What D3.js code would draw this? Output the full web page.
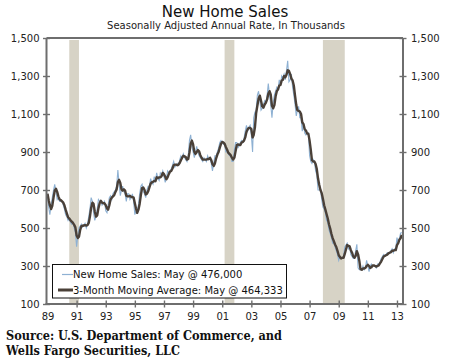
<!DOCTYPE html>
<html><head><meta charset="utf-8">
<script src="https://cdn.jsdelivr.net/npm/d3@7"></script>
<style>body{margin:0;background:#fff}svg{display:block}</style>
</head><body>
<svg id="chart" width="450" height="360"></svg>
<script>
// Monthly new home sales, SAAR, thousands (Jan 1989 – May 2013)
const startMonth = [1989, 0];
const newHomeSales = [
  680, 610, 570, 620, 660, 700, 730, 690, 650, 660, 640, 640,      // 1989
  640, 620, 600, 570, 560, 540, 550, 530, 520, 530, 500, 480,      // 1990
  401, 460, 500, 510, 520, 505, 515, 525, 500, 520, 560, 600,      // 1991
  660, 640, 580, 540, 560, 600, 650, 640, 640, 620, 630, 640,      // 1992
  590, 580, 620, 660, 670, 650, 680, 690, 700, 720, 805, 735,      // 1993
  670, 700, 720, 690, 680, 640, 680, 680, 650, 660, 680, 640,      // 1994
  570, 590, 580, 620, 680, 720, 730, 690, 680, 660, 700, 720,      // 1995
  720, 760, 740, 730, 770, 740, 790, 760, 750, 790, 780, 800,      // 1996
  770, 740, 760, 800, 790, 800, 810, 830, 850, 820, 830, 840,      // 1997
  830, 860, 880, 870, 890, 870, 860, 850, 880, 960, 990, 930,      // 1998
  900, 870, 900, 930, 900, 880, 870, 860, 850, 870, 860, 850,      // 1999
  880, 860, 870, 840, 800, 840, 880, 880, 900, 920, 950, 960,      // 2000
  950, 940, 940, 900, 900, 890, 880, 880, 850, 850, 910, 950,      // 2001
  950, 920, 940, 950, 960, 950, 970, 1010, 1040, 1010, 1030, 1040, // 2002
  990, 900, 1080, 1110, 1120, 1200, 1220, 1170, 1120, 1130, 1150, 1170, // 2003
  1160, 1200, 1260, 1200, 1150, 1080, 1160, 1200, 1220, 1240, 1230, 1280, // 2004
  1250, 1300, 1290, 1310, 1280, 1330, 1380, 1270, 1280, 1310, 1240, 1200, // 2005
  1150, 1090, 1120, 1140, 1080, 1080, 1010, 1050, 1000, 990, 1000, 1000, // 2006
  880, 850, 840, 860, 850, 800, 780, 700, 700, 700, 650, 610,      // 2007
  600, 580, 540, 530, 490, 470, 450, 420, 420, 400, 380, 360,      // 2008
  330, 350, 340, 340, 350, 400, 410, 420, 390, 400, 360, 350,      // 2009
  340, 340, 380, 414, 290, 280, 280, 280, 300, 280, 290, 330,      // 2010
  300, 270, 300, 310, 300, 300, 300, 290, 310, 310, 320, 340,      // 2011
  350, 360, 350, 360, 370, 370, 370, 380, 390, 370, 390, 390,      // 2012
  450, 420, 444, 473, 476                                          // 2013
];
const recessionStarts = ["1990-07-01", "2001-03-01", "2007-12-01"];
const recessionEnds   = ["1991-03-01", "2001-11-01", "2009-06-01"];
const yTicks = [100, 300, 500, 700, 900, 1100, 1300, 1500];
const xTickYears = [1989, 1991, 1993, 1995, 1997, 1999, 2001, 2003, 2005, 2007, 2009, 2011, 2013];
const legendLabels = ["New Home Sales: May @ 476,000", "3-Month Moving Average: May @ 464,333"];
const titleText = "New Home Sales";
const subtitleText = "Seasonally Adjusted Annual Rate, In Thousands";
const sourceLines = ["Source: U.S. Department of Commerce, and", "Wells Fargo Securities, LLC"];

(function () {
const rows = newHomeSales.map((v, i) => ({date: new Date(startMonth[0], startMonth[1] + i, 1), value: v}));
const maRows = rows.map((d, i) => ({date: d.date, value: d3.mean(newHomeSales.slice(Math.max(0, i - 2), i + 1))}));

const svg = d3.select("#chart");
const pL = 46.5, pR = 403, pT = 38, pB = 304;
const x = d3.scaleTime().domain([new Date(1989, 0, 1), new Date(2013, 5, 1)]).range([47.5, 403]);
const y = d3.scaleLinear().domain([100, 1500]).range([pB, pT]);
const font = "'DejaVu Sans', Verdana, sans-serif";
const axisColor = "#6e6e6e";

// recession bands
svg.append("g").selectAll("rect").data(recessionStarts).join("rect")
  .attr("x", (d) => x(new Date(d + "T00:00")))
  .attr("width", (d, i) => x(new Date(recessionEnds[i] + "T00:00")) - x(new Date(d + "T00:00")))
  .attr("y", pT + 2).attr("height", pB - pT - 2)
  .attr("fill", "#d7d3c6");

// lines
const line = d3.line().x(d => x(d.date)).y(d => y(d.value));
svg.append("path").datum(rows).attr("d", line)
  .attr("fill", "none").attr("stroke", "#8eb1d3").attr("stroke-width", 1.1);
svg.append("path").datum(maRows).attr("d", line)
  .attr("fill", "none").attr("stroke", "#4a4038").attr("stroke-width", 2.4).attr("stroke-linejoin", "round");

// frame lines
const frame = svg.append("g").attr("stroke", axisColor).attr("stroke-width", 2).attr("fill", "none");
frame.append("line").attr("x1", pL).attr("x2", pL).attr("y1", pT).attr("y2", pB + 1);
frame.append("line").attr("x1", pR).attr("x2", pR).attr("y1", pT).attr("y2", pB + 1);
frame.append("line").attr("x1", pL).attr("x2", pR).attr("y1", pT).attr("y2", pT);
frame.append("line").attr("x1", pL - 1).attr("x2", pR + 1).attr("y1", pB).attr("y2", pB);

// y axes
function yAxis(gen, xpos) {
  const g = svg.append("g").attr("transform", `translate(${xpos},0)`)
    .call(gen.tickValues(yTicks).tickFormat(d3.format(",")).tickSizeInner(0).tickSizeOuter(0).tickPadding(0));
  g.select(".domain").remove();
  g.selectAll(".tick line").remove();
  g.selectAll(".tick").append("line").attr("x1", -3.5).attr("x2", 3.5).attr("stroke", axisColor).attr("stroke-width", 1.4);
  g.selectAll("text").attr("font-family", font).attr("font-size", 10).attr("fill", "#222");
  return g;
}
const gl = yAxis(d3.axisLeft(y), pL);
gl.selectAll("text").attr("x", -7).attr("dy", "0.34em");
const gr = yAxis(d3.axisRight(y), pR);
gr.selectAll("text").attr("x", 8).attr("dy", "0.34em");

// x axis
const gx = svg.append("g").attr("transform", `translate(0,${pB})`)
  .call(d3.axisBottom(x).tickValues(xTickYears.map(yr => new Date(yr, 0, 1)))
    .tickFormat(d3.timeFormat("%y")).tickSizeInner(0).tickSizeOuter(0).tickPadding(0));
gx.select(".domain").remove();
gx.selectAll(".tick line").remove();
gx.selectAll(".tick").filter((d, i) => i > 0).append("line").attr("y1", -3.5).attr("y2", 3.5)
  .attr("stroke", axisColor).attr("stroke-width", 1.4);
gx.selectAll("text").attr("font-family", font).attr("font-size", 10).attr("fill", "#222")
  .attr("y", 16).attr("dy", 0);

// titles
svg.append("text").attr("x", 225).attr("y", 17).attr("text-anchor", "middle")
  .attr("font-family", font).attr("font-size", 15).attr("fill", "#111").text(titleText);
svg.append("text").attr("x", 226).attr("y", 29).attr("text-anchor", "middle")
  .attr("font-family", font).attr("font-size", 10).attr("fill", "#222").text(subtitleText);

// legend
const lg = svg.append("g");
lg.append("rect").attr("x", 52.5).attr("y", 264.5).attr("width", 234).attr("height", 33.5)
  .attr("fill", "#fff").attr("stroke", "#111").attr("stroke-width", 1);
lg.append("line").attr("x1", 62).attr("x2", 73).attr("y1", 274.5).attr("y2", 274.5)
  .attr("stroke", "#8eb1d3").attr("stroke-width", 1.2);
lg.append("line").attr("x1", 58).attr("x2", 73).attr("y1", 290).attr("y2", 290)
  .attr("stroke", "#4a4038").attr("stroke-width", 3);
lg.selectAll("text").data(legendLabels).join("text")
  .attr("x", 73).attr("y", (d, i) => i === 0 ? 278 : 293.7)
  .attr("font-family", font).attr("font-size", 10).attr("fill", "#111").text(d => d);

// source
svg.selectAll("text.src").data(sourceLines).join("text").attr("class", "src")
  .attr("x", 6).attr("y", (d, i) => i === 0 ? 339.5 : 355)
  .attr("font-family", "'DejaVu Serif', Georgia, serif").attr("font-weight", "bold")
  .attr("font-size", 12).attr("fill", "#111")
  .attr("textLength", (d, i) => i === 0 ? 276 : 174).attr("lengthAdjust", "spacingAndGlyphs")
  .text(d => d);
})();
</script>
</body></html>
